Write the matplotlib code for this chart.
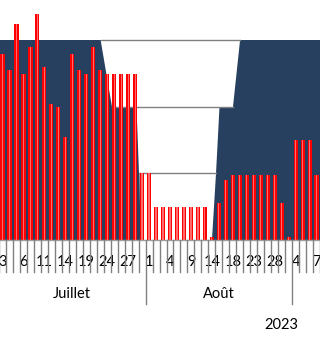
import matplotlib
matplotlib.use('Agg')
import matplotlib.pyplot as plt
from matplotlib.patches import Polygon, Rectangle
import matplotlib.transforms as mtransforms
import numpy as np

plt.rcParams['font.family'] = ['Lato', 'DejaVu Sans']

# ---- data ----
days = [3, 4, 5, 6, 7, 10, 11, 12, 13, 14, 17, 18, 19, 20, 21, 24, 25, 26, 27, 28, 31,
        1, 2, 3, 4, 7, 8, 9, 10, 11, 14, 16, 17, 18, 21, 22, 23, 24, 25, 28, 29, 30,
        4, 5, 6, 7]
months = ['Juillet'] * 21 + ['Août'] * 21 + ['Septembre'] * 4
values = [56, 51, 65, 50, 58, 68, 52, 41, 40, 31, 56, 51, 50, 58, 51, 50, 50, 50, 50, 50, 20,
          20, 10, 10, 10, 10, 10, 10, 10, 10, 1, 11, 18, 19.5, 19.5, 19.5, 19.5, 19.5, 19.5, 19.5,
          11, 1, 30, 30, 30, 19.5]
year_label = '2023'

# funnel background bands (level boundaries and band edges in category units)
band_top = [60, 40, 20]
band_bottom = [40, 20, 0]
band_top_left = [14.07, 19.20, 19.63]
band_top_right = [34.03, 31.09, 30.59]
band_bot_left = [15.69, 19.56, 19.77]
band_bot_right = [33.02, 30.59, 30.01]

NAVY = '#27405F'
RED = '#FF0000'
GRAY = '#808080'

fig = plt.figure(figsize=(3.2, 3.37), dpi=100)
ax = fig.add_axes([0, 97 / 337, 1, 240 / 337])
x = np.arange(len(values))
ax.set_xlim(-0.358, 45.49)
ax.set_ylim(0, 72.18)
ax.axis('off')

# navy background
ax.add_patch(Rectangle((-1, 0), 50, band_top[0], facecolor=NAVY, edgecolor='none', zorder=1))
# white funnel bands
for t, b, tl, tr, bl, br in zip(band_top, band_bottom, band_top_left, band_top_right,
                                band_bot_left, band_bot_right):
    ax.add_patch(Polygon([(tl, t), (tr, t), (br, b), (bl, b)], closed=True,
                         facecolor='white', edgecolor='none', zorder=2))
# gray level lines
ax.plot([band_top_left[0], band_top_right[0]], [band_top[0]] * 2, color=GRAY, lw=1.0, zorder=3)
ax.plot([band_bot_left[0], band_bot_right[0]], [band_bottom[0]] * 2, color=GRAY, lw=1.0, zorder=3)
ax.plot([band_bot_left[1], band_bot_right[1]], [band_bottom[1]] * 2, color=GRAY, lw=1.0, zorder=3)

# bars
ax.bar(x, values, width=0.6, color=RED, zorder=4, linewidth=0)
ax.bar(x, values, width=0.17, color='#FF6A6A', zorder=5, linewidth=0)

# axis line
ax.plot([-1, 50], [0, 0], color='#A0A0A0', lw=1.0, zorder=6, clip_on=False)

trans = mtransforms.blended_transform_factory(ax.transData, ax.transAxes)
# tick separators
for k in range(-1, len(values)):
    b = k + 0.5
    long_tick = (k >= 0 and k + 1 < len(values) and months[k] != months[k + 1])
    y_end = -0.2667 if long_tick else -0.1333
    ax.plot([b, b], [0, y_end], color=GRAY, lw=1.0, transform=trans, clip_on=False, zorder=6)

# day labels every third category
for k in range(0, len(values), 3):
    ax.text(k, -0.092, str(days[k]), transform=trans, ha='center', va='center',
            fontsize=10.5, color='black')

# month labels centred on their span
seen = []
for m in months:
    if m not in seen:
        seen.append(m)
for m in seen:
    idx = [i for i, mm in enumerate(months) if mm == m]
    if len(idx) < 5:
        continue
    c = (idx[0] + idx[-1]) / 2
    ax.text(c, -0.223, m, transform=trans, ha='center', va='center', fontsize=10.5, color='black')

ax.text(39.9, -0.354, year_label, transform=trans, ha='center', va='center',
        fontsize=10.5, color='black')

fig.savefig('out.png', dpi=100)
